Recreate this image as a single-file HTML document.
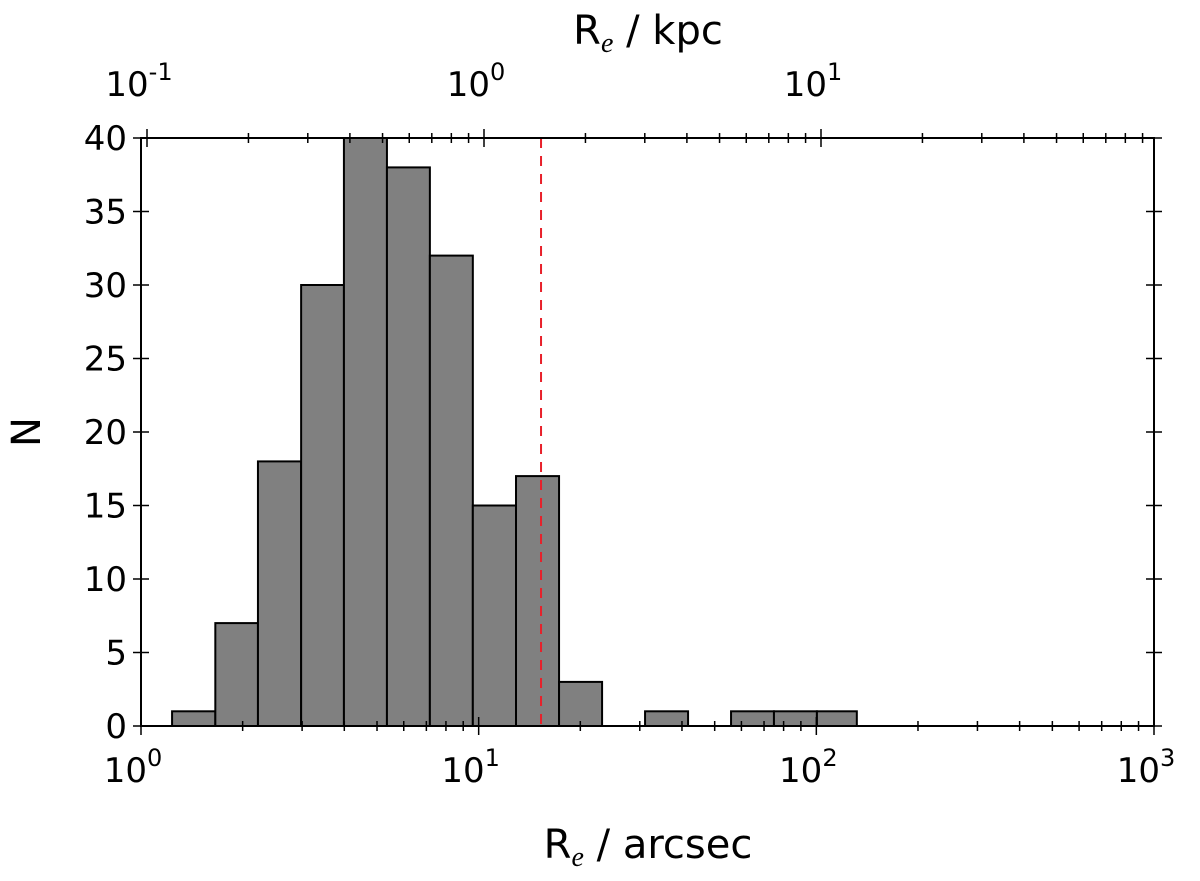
<!DOCTYPE html>
<html><head><meta charset="utf-8"><style>
body{margin:0;background:#fff}
svg text{font-family:"DejaVu Sans","Liberation Sans",sans-serif;fill:#000}
</style></head><body>
<svg id="chart" width="1200" height="876" viewBox="0 0 1200 876" xmlns="http://www.w3.org/2000/svg">
<g id="bars"></g>
<g id="ticks"></g>
<rect x="141" y="138" width="1013" height="588" fill="none" stroke="#000" stroke-width="2"/>
<g id="labels"></g>
<text x="648" y="858" font-size="40" text-anchor="middle">R<tspan font-style="italic" font-family="Liberation Serif" font-size="28" dy="8">e</tspan><tspan dy="-8"> / arcsec</tspan></text>
<text x="648" y="44" font-size="40" text-anchor="middle">R<tspan font-style="italic" font-family="Liberation Serif" font-size="28" dy="8">e</tspan><tspan dy="-8"> / kpc</tspan></text>
<text transform="translate(40,432) rotate(-90)" font-size="40" text-anchor="middle">N</text>
</svg>
<script>
const binEdges=[1.236,1.66,2.22,2.98,3.99,5.35,7.17,9.61,12.9,17.3,23.2,31.1,41.7,55.9,74.9,100.4,131.8];
const counts=[1,7,18,30,40,38,32,15,17,3,0,1,0,1,1,1];
const yTicks=[0,5,10,15,20,25,30,35,40];
const xDecades=[0,1,2,3];
const topDecades=[-1,0,1];
const refLine=15.3;
const NS="http://www.w3.org/2000/svg";
const X0=141,X1=1154,Y0=726,Y1=138;
const xs=v=>X0+(Math.log10(v)-0)/3*(X1-X0);
const ys=v=>Y0-v/40*(Y0-Y1);
const xt=v=>147+(Math.log10(v)+1)*337;
function mk(t,a,p){const e=document.createElementNS(NS,t);for(const k in a)e.setAttribute(k,a[k]);p.appendChild(e);return e;}
const bars=document.getElementById('bars'),ticks=document.getElementById('ticks'),labels=document.getElementById('labels');
counts.forEach((c,i)=>{if(!c)return;const x=xs(binEdges[i]),w=xs(binEdges[i+1])-x;
const r=mk('rect',{x:x,y:ys(c),width:w,height:Y0-ys(c),fill:'#808080',stroke:'#000','stroke-width':2},bars);

});
const rl=mk('line',{x1:xs(refLine),x2:xs(refLine),y1:Y1,y2:Y0,stroke:'#e8202a','stroke-width':2,'stroke-dasharray':'10,8'},bars);


function tk(x1,y1,x2,y2,w){mk('line',{x1,y1,x2,y2,stroke:'#000','stroke-width':w||1.5},ticks);}
// y ticks
yTicks.forEach(v=>{const y=ys(v);tk(X0-8,y,X0+8,y);tk(X1-8,y,X1+8,y);
const t=mk('text',{x:X0-14,y:y+12,'font-size':34,'text-anchor':'end'},labels);t.textContent=v;

});
// bottom x ticks
xDecades.forEach(d=>{const x=xs(Math.pow(10,d));tk(x,Y0-9,x,Y0+9);
if(d<3)for(let m=2;m<10;m++){const xm=xs(m*Math.pow(10,d));tk(xm,Y0-5,xm,Y0+5);}
const t=mk('text',{x:x-8,y:Y0+56,'font-size':34,'text-anchor':'middle'},labels);
t.innerHTML='10<tspan font-size="24" dy="-16">'+d+'</tspan>';

});
// top ticks (kpc)
for(let d=-1;d<=2;d++){const x=xt(Math.pow(10,d));if(x<=X1)tk(x,Y1-9,x,Y1+9);
for(let m=2;m<10;m++){const xm=xt(m*Math.pow(10,d));if(xm<X1)tk(xm,Y1-5,xm,Y1+5);}}
topDecades.forEach(d=>{const x=xt(Math.pow(10,d));
const t=mk('text',{x:x-8,y:Y1-42,'font-size':34,'text-anchor':'middle'},labels);
t.innerHTML='10<tspan font-size="24" dy="-16">'+d+'</tspan>';

});
</script>
</body></html>
